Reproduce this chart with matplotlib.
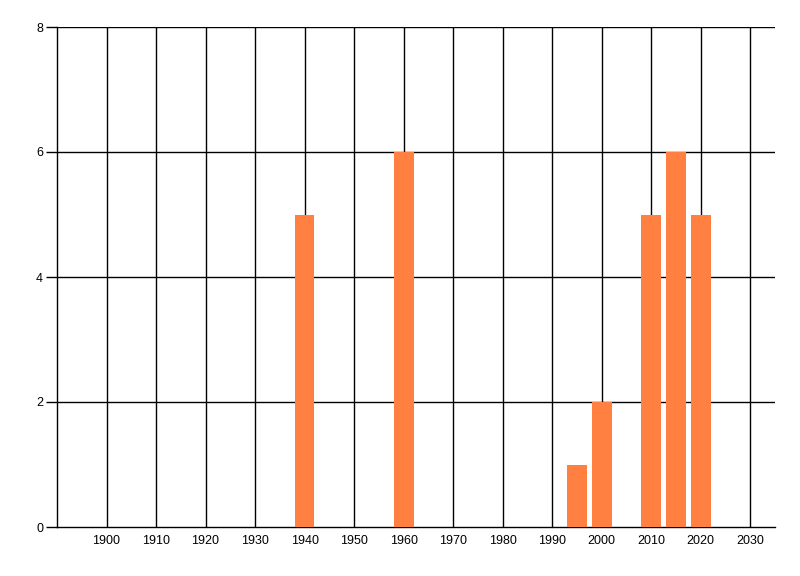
import matplotlib.pyplot as plt

# data
years = [1940, 1960, 1995, 2000, 2010, 2015, 2020]
counts = [5, 6, 1, 2, 5, 6, 5]
x_ticks = list(range(1900, 2031, 10))
y_ticks = [0, 2, 4, 6, 8]

fig = plt.figure(figsize=(8, 5.76), dpi=100)
ax = fig.add_axes([57/800, 1 - 527/576, (775 - 57)/800, 500/576])

ax.bar(years, counts, width=4, color='#FF8040', zorder=3)

ax.set_xlim(1890, 2035)
ax.set_ylim(0, 8)
ax.set_xticks(x_ticks)
ax.set_yticks(y_ticks)

# grid lines drawn under bars
for x in x_ticks:
    ax.axvline(x, color='black', lw=1, zorder=1)
for y in y_ticks[1:]:
    ax.axhline(y, color='black', lw=1, zorder=1)

for s in ['top', 'right']:
    ax.spines[s].set_visible(False)
ax.spines['left'].set_linewidth(1)
ax.spines['bottom'].set_linewidth(1)

ax.tick_params(axis='y', length=8, width=1, labelsize=8, pad=2)
ax.tick_params(axis='x', length=0, labelsize=8, pad=6)
for lbl in ax.get_xticklabels() + ax.get_yticklabels():
    lbl.set_fontfamily('Liberation Sans')
    lbl.set_fontsize(9)

fig.savefig('out.png', dpi=100)
